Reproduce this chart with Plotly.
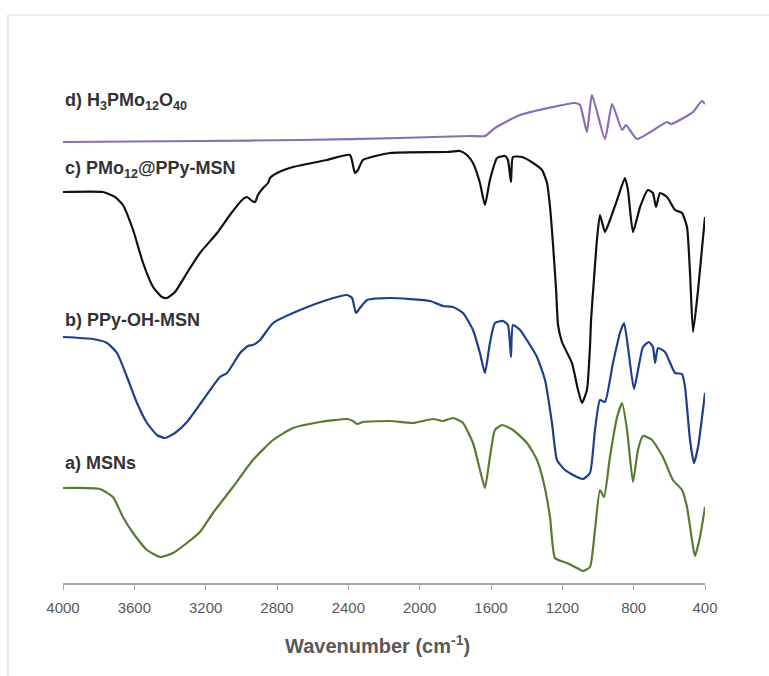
import plotly.graph_objects as go

# ---- data (wavenumber in cm-1, intensity in arbitrary offset units) ----
wn_a = [4000, 3793, 3720, 3664, 3607, 3529, 3456, 3383, 3305, 3232, 3159, 3047, 2935, 2822, 2710,
        2559, 2407, 2374, 2351, 2318, 2166, 2037, 1925, 1869, 1813, 1757, 1701, 1662, 1634, 1606,
        1578, 1538, 1477, 1398, 1342, 1308, 1269, 1241, 1174, 1118, 1084, 1045, 1017, 989, 966,
        933, 893, 865, 837, 804, 776, 748, 697, 636, 580, 529, 501, 473, 456, 428, 400]
int_a = [95, 94, 86, 66, 50, 33, 26, 30, 40, 51, 70, 96, 123, 143, 155,
         161, 164, 162, 159, 161, 162, 160, 164, 162, 165, 160, 140, 113, 95, 126,
         153, 158, 153, 140, 123, 103, 66, 25, 20, 15, 12, 16, 53, 93, 86,
         126, 166, 180, 153, 101, 133, 147, 143, 126, 103, 93, 76, 43, 27, 46, 76]

wn_b = [4000, 3832, 3753, 3697, 3641, 3585, 3529, 3473, 3428, 3372, 3305, 3215, 3120, 3080, 3007,
        2963, 2935, 2895, 2822, 2671, 2520, 2407, 2379, 2357, 2335, 2295, 2166, 1942, 1869, 1813,
        1757, 1701, 1662, 1634, 1606, 1578, 1533, 1505, 1488, 1477, 1437, 1392, 1342, 1297, 1258,
        1230, 1185, 1118, 1084, 1045, 1017, 989, 961, 916, 877, 854, 832, 798, 748, 714,
        692, 680, 664, 624, 568, 529, 512, 484, 462, 439, 400]
int_b = [246, 244, 240, 230, 206, 180, 160, 148, 145, 150, 161, 183, 206, 210, 230,
         237, 238, 243, 260, 273, 283, 288, 285, 270, 275, 283, 285, 282, 277, 276,
         270, 253, 230, 210, 240, 260, 262, 258, 226, 258, 253, 241, 226, 203, 160,
         123, 113, 106, 104, 110, 153, 183, 181, 220, 250, 260, 236, 194, 236, 241,
         236, 220, 235, 231, 210, 209, 196, 143, 120, 136, 190]

wn_c = [4000, 3776, 3708, 3664, 3607, 3551, 3495, 3445, 3417, 3372, 3305, 3232, 3136, 3064, 2996,
        2968, 2940, 2923, 2907, 2878, 2850, 2839, 2800, 2710, 2520, 2391, 2363, 2346, 2318, 2166,
        1847, 1774, 1735, 1701, 1662, 1634, 1606, 1566, 1521, 1505, 1488, 1477, 1426, 1364, 1314,
        1286, 1269, 1252, 1235, 1224, 1202, 1146, 1112, 1090, 1062, 1045, 1039, 1023, 1006, 989,
        961, 933, 893, 849, 832, 804, 764, 720, 692, 675, 652, 613, 568, 529, 501,
        484, 467, 439, 400]
int_c = [391, 391, 386, 378, 353, 320, 296, 286, 285, 291, 310, 330, 350, 368, 383,
         386, 382, 381, 388, 395, 400, 405, 410, 416, 423, 428, 410, 413, 423, 430,
         431, 432, 428, 420, 400, 378, 403, 425, 427, 423, 401, 426, 426, 420, 413,
         400, 376, 338, 293, 258, 241, 220, 193, 180, 193, 236, 263, 303, 343, 368,
         351, 363, 383, 405, 393, 351, 376, 393, 390, 376, 390, 386, 373, 370, 356,
         310, 251, 293, 366]

wn_d = [4000, 3232, 2671, 2110, 1718, 1634, 1578, 1437, 1129, 1101, 1062, 1034, 961, 921, 865,
        843, 781, 613, 591, 501, 467, 417, 400]
int_d = [441, 442, 443, 445, 447, 447, 455, 468, 480, 478, 451, 488, 444, 479, 453,
         458, 444, 461, 459, 467, 471, 482, 479]

series_names = ["a) MSNs", "b) PPy-OH-MSN", "c) PMo<sub>12</sub>@PPy-MSN",
                "d) H<sub>3</sub>PMo<sub>12</sub>O<sub>40</sub>"]
series_colors = ["#5B7A31", "#1F3E8C", "#111111", "#8A6DB5"]
label_levels = [0.229, 0.503, 0.79, 0.921]

tick_vals = [4000, 3600, 3200, 2800, 2400, 2000, 1600, 1200, 800, 400]
x_title = "Wavenumber (cm<sup>-1</sup>)"

# ---- figure ----
fig = go.Figure()
for wn, it, col in zip([wn_a, wn_b, wn_c, wn_d], [int_a, int_b, int_c, int_d], series_colors):
    fig.add_trace(go.Scatter(x=wn, y=it, mode="lines",
                             line=dict(color=col, width=2.2, shape="spline", smoothing=0.5),
                             showlegend=False, hoverinfo="skip"))

for name, lvl in zip(series_names, label_levels):
    fig.add_annotation(x=0, y=lvl, xref="paper", yref="paper", text="<b>" + name + "</b>",
                       showarrow=False, xanchor="left", yanchor="middle",
                       font=dict(family="Liberation Sans", size=18, color="#333333"))

fig.add_annotation(x=0.49, y=-0.1185, xref="paper", yref="paper", text="<b>" + x_title + "</b>",
                   showarrow=False, xanchor="center", yanchor="middle",
                   font=dict(family="Liberation Sans", size=20, color="#595959"))

# outer frame (light grey border of the chart area)
fig.add_shape(type="rect", xref="paper", yref="paper",
              x0=-0.0857, y0=-0.21, x1=1.12, y1=1.086,
              line=dict(color="#DADADA", width=1.2))

fig.update_xaxes(range=[4000, 400], tickvals=tick_vals, ticks="outside", ticklen=5,
                 tickcolor="#A6A6A6", tickwidth=1.2, showline=True, linecolor="#A6A6A6",
                 linewidth=1.5, showgrid=False, zeroline=False, ticklabelstandoff=5,
                 tickfont=dict(family="Liberation Sans", size=15, color="#595959"))
fig.update_yaxes(range=[0, 523], visible=False, showgrid=False, zeroline=False)

fig.update_layout(width=769, height=676, margin=dict(l=63, r=64, t=60, b=93),
                  plot_bgcolor="white", paper_bgcolor="white")

fig.write_html("out.html")
